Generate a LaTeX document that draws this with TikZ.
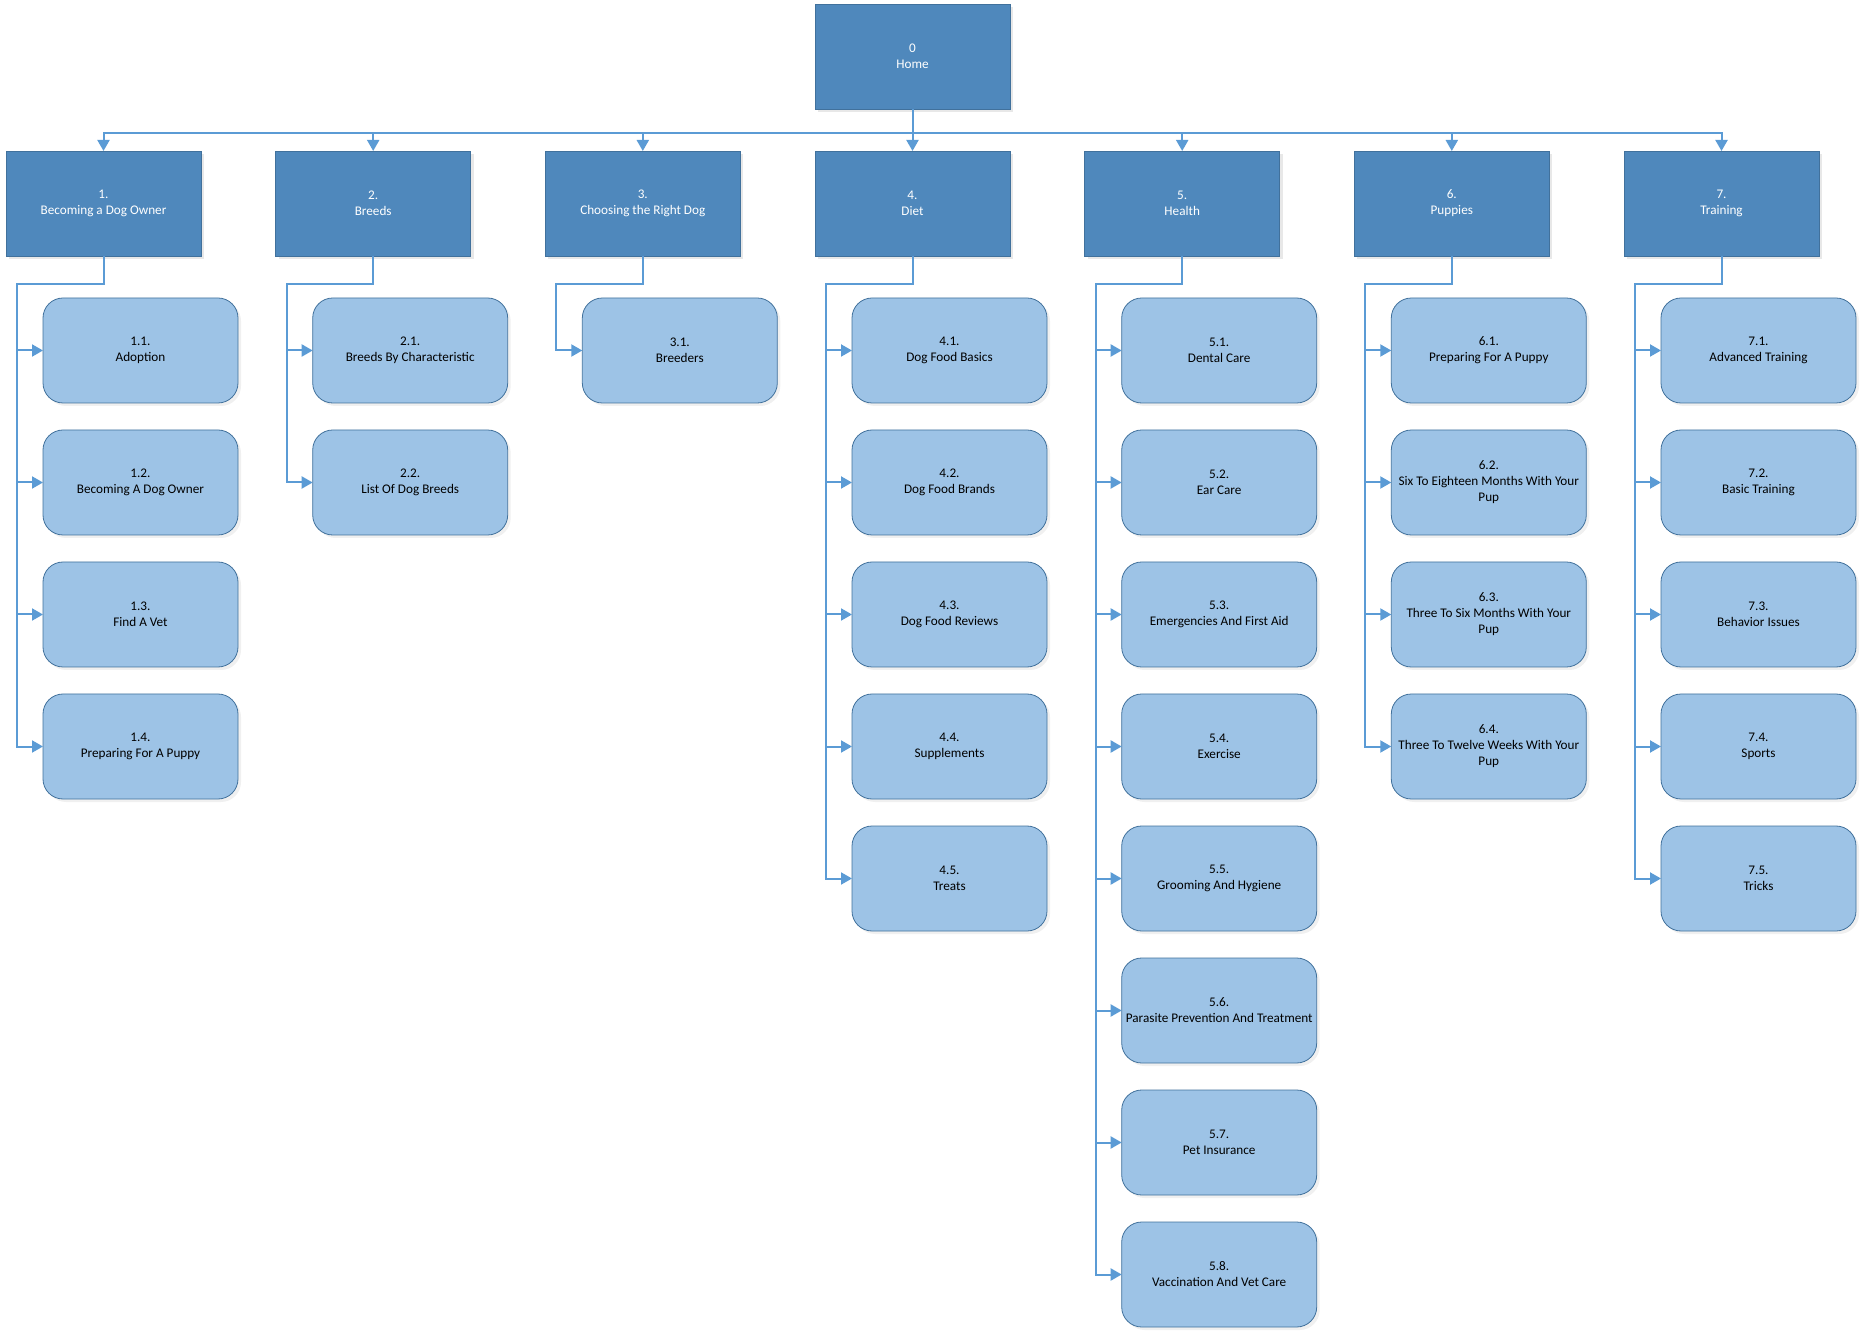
\documentclass[tikz,border=0pt]{standalone}
\usepackage{fontspec}
\setmainfont{Carlito}
\usetikzlibrary{arrows.meta,shadows}

\definecolor{topicfill}{RGB}{79,136,188}
\definecolor{pagefill}{RGB}{157,195,230}
\definecolor{boxline}{RGB}{65,113,156}
\definecolor{linkline}{RGB}{91,155,213}

\begin{document}
\begin{tikzpicture}[x=0.5pt,y=-0.5pt]
	\tikzstyle{every node}+=[inner sep=1pt,outer sep=0pt,align=center,font=\fontsize{6.6}{8}\selectfont]
	\tikzstyle{topic}=[draw=boxline,fill=topicfill,text=white,minimum width=97.5pt,minimum height=52.5pt,drop shadow={shadow xshift=1.5pt,shadow yshift=-1.5pt,opacity=0.18}]
	\tikzstyle{page}=[draw=boxline,fill=pagefill,text=black,rounded corners=10pt,minimum width=97.5pt,minimum height=52.5pt,drop shadow={shadow xshift=1.5pt,shadow yshift=-1.5pt,opacity=0.12}]
	\tikzstyle{link}=[draw=linkline,line width=1pt,-{Triangle[length=5.5pt,width=6pt]}]
	\useasboundingbox (0,0) rectangle (1864,1336);
	% root and sections
	\node [topic] (home) at (912.5,56.5) {0\\Home};
	\node [topic] (s1) at (103.5,203.5) {1.\\Becoming a Dog Owner};
	\node [topic] (s2) at (373.2,203.5) {2.\\Breeds};
	\node [topic] (s3) at (642.8,203.5) {3.\\Choosing the Right Dog};
	\node [topic] (s4) at (912.5,203.5) {4.\\Diet};
	\node [topic] (s5) at (1182.2,203.5) {5.\\Health};
	\node [topic] (s6) at (1451.8,203.5) {6.\\Puppies};
	\node [topic] (s7) at (1721.5,203.5) {7.\\Training};
	% pages
	\node [page] (p11) at (140.5,350.5) {1.1.\\Adoption};
	\node [page] (p12) at (140.5,482.5) {1.2.\\Becoming A Dog Owner};
	\node [page] (p13) at (140.5,614.5) {1.3.\\Find A Vet};
	\node [page] (p14) at (140.5,746.5) {1.4.\\Preparing For A Puppy};
	\node [page] (p21) at (410.2,350.5) {2.1.\\Breeds By Characteristic};
	\node [page] (p22) at (410.2,482.5) {2.2.\\List Of Dog Breeds};
	\node [page] (p31) at (679.8,350.5) {3.1.\\Breeders};
	\node [page] (p41) at (949.5,350.5) {4.1.\\Dog Food Basics};
	\node [page] (p42) at (949.5,482.5) {4.2.\\Dog Food Brands};
	\node [page] (p43) at (949.5,614.5) {4.3.\\Dog Food Reviews};
	\node [page] (p44) at (949.5,746.5) {4.4.\\Supplements};
	\node [page] (p45) at (949.5,878.5) {4.5.\\Treats};
	\node [page] (p51) at (1219.2,350.5) {5.1.\\Dental Care};
	\node [page] (p52) at (1219.2,482.5) {5.2.\\Ear Care};
	\node [page] (p53) at (1219.2,614.5) {5.3.\\Emergencies And First Aid};
	\node [page] (p54) at (1219.2,746.5) {5.4.\\Exercise};
	\node [page] (p55) at (1219.2,878.5) {5.5.\\Grooming And Hygiene};
	\node [page] (p56) at (1219.2,1010.5) {5.6.\\Parasite Prevention And Treatment};
	\node [page] (p57) at (1219.2,1142.5) {5.7.\\Pet Insurance};
	\node [page] (p58) at (1219.2,1274.5) {5.8.\\Vaccination And Vet Care};
	\node [page] (p61) at (1488.8,350.5) {6.1.\\Preparing For A Puppy};
	\node [page] (p62) at (1488.8,482.5) {6.2.\\Six To Eighteen Months With Your\\Pup};
	\node [page] (p63) at (1488.8,614.5) {6.3.\\Three To Six Months With Your\\Pup};
	\node [page] (p64) at (1488.8,746.5) {6.4.\\Three To Twelve Weeks With Your\\Pup};
	\node [page] (p71) at (1758.5,350.5) {7.1.\\Advanced Training};
	\node [page] (p72) at (1758.5,482.5) {7.2.\\Basic Training};
	\node [page] (p73) at (1758.5,614.5) {7.3.\\Behavior Issues};
	\node [page] (p74) at (1758.5,746.5) {7.4.\\Sports};
	\node [page] (p75) at (1758.5,878.5) {7.5.\\Tricks};
	% root to sections
	\draw [link] (home.south) -- ++(0,24) -| (s1.north);
	\draw [link] (home.south) -- ++(0,24) -| (s2.north);
	\draw [link] (home.south) -- ++(0,24) -| (s3.north);
	\draw [link] (home.south) -- (s4.north);
	\draw [link] (home.south) -- ++(0,24) -| (s5.north);
	\draw [link] (home.south) -- ++(0,24) -| (s6.north);
	\draw [link] (home.south) -- ++(0,24) -| (s7.north);
	% bus lines of the sections
	\coordinate (b1) at ([xshift=5.5pt]s1.west);
	\coordinate (b2) at ([xshift=5.5pt]s2.west);
	\coordinate (b3) at ([xshift=5.5pt]s3.west);
	\coordinate (b4) at ([xshift=5.5pt]s4.west);
	\coordinate (b5) at ([xshift=5.5pt]s5.west);
	\coordinate (b6) at ([xshift=5.5pt]s6.west);
	\coordinate (b7) at ([xshift=5.5pt]s7.west);
	% sections to pages
	\draw [link] (s1.south) -- ++(0,28) -| (b1 |- p11) -- (p11);
	\draw [link] (s1.south) -- ++(0,28) -| (b1 |- p12) -- (p12);
	\draw [link] (s1.south) -- ++(0,28) -| (b1 |- p13) -- (p13);
	\draw [link] (s1.south) -- ++(0,28) -| (b1 |- p14) -- (p14);
	\draw [link] (s2.south) -- ++(0,28) -| (b2 |- p21) -- (p21);
	\draw [link] (s2.south) -- ++(0,28) -| (b2 |- p22) -- (p22);
	\draw [link] (s3.south) -- ++(0,28) -| (b3 |- p31) -- (p31);
	\draw [link] (s4.south) -- ++(0,28) -| (b4 |- p41) -- (p41);
	\draw [link] (s4.south) -- ++(0,28) -| (b4 |- p42) -- (p42);
	\draw [link] (s4.south) -- ++(0,28) -| (b4 |- p43) -- (p43);
	\draw [link] (s4.south) -- ++(0,28) -| (b4 |- p44) -- (p44);
	\draw [link] (s4.south) -- ++(0,28) -| (b4 |- p45) -- (p45);
	\draw [link] (s5.south) -- ++(0,28) -| (b5 |- p51) -- (p51);
	\draw [link] (s5.south) -- ++(0,28) -| (b5 |- p52) -- (p52);
	\draw [link] (s5.south) -- ++(0,28) -| (b5 |- p53) -- (p53);
	\draw [link] (s5.south) -- ++(0,28) -| (b5 |- p54) -- (p54);
	\draw [link] (s5.south) -- ++(0,28) -| (b5 |- p55) -- (p55);
	\draw [link] (s5.south) -- ++(0,28) -| (b5 |- p56) -- (p56);
	\draw [link] (s5.south) -- ++(0,28) -| (b5 |- p57) -- (p57);
	\draw [link] (s5.south) -- ++(0,28) -| (b5 |- p58) -- (p58);
	\draw [link] (s6.south) -- ++(0,28) -| (b6 |- p61) -- (p61);
	\draw [link] (s6.south) -- ++(0,28) -| (b6 |- p62) -- (p62);
	\draw [link] (s6.south) -- ++(0,28) -| (b6 |- p63) -- (p63);
	\draw [link] (s6.south) -- ++(0,28) -| (b6 |- p64) -- (p64);
	\draw [link] (s7.south) -- ++(0,28) -| (b7 |- p71) -- (p71);
	\draw [link] (s7.south) -- ++(0,28) -| (b7 |- p72) -- (p72);
	\draw [link] (s7.south) -- ++(0,28) -| (b7 |- p73) -- (p73);
	\draw [link] (s7.south) -- ++(0,28) -| (b7 |- p74) -- (p74);
	\draw [link] (s7.south) -- ++(0,28) -| (b7 |- p75) -- (p75);
\end{tikzpicture}
\end{document}
